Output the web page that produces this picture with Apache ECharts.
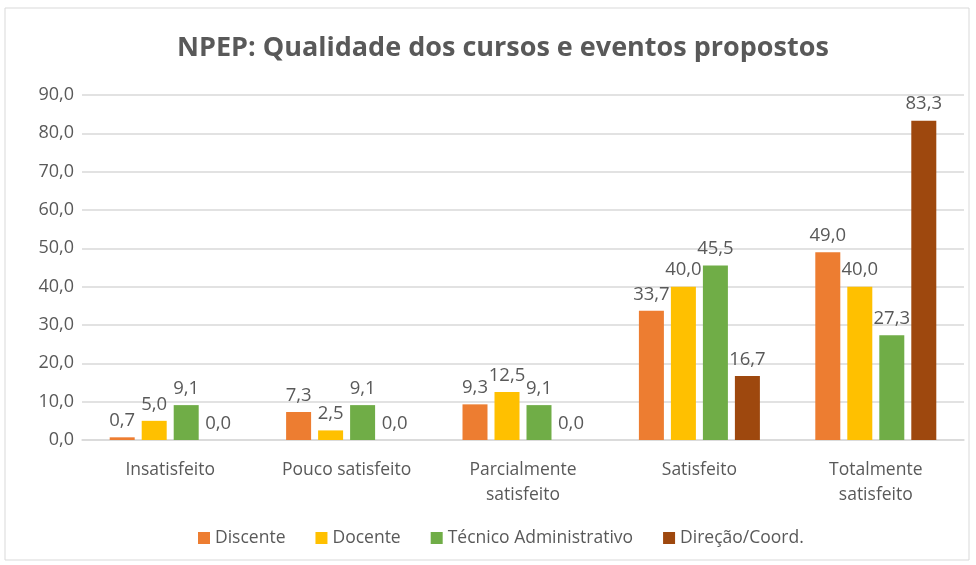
<!DOCTYPE html>
<html>
<head>
<meta charset="utf-8">
<script src="https://cdn.jsdelivr.net/npm/echarts@6/dist/echarts.min.js"></script>
<style>
html, body { margin: 0; padding: 0; background: #fff; }
#main { width: 976px; height: 565px; }
</style>
</head>
<body>
<div id="main"></div>
<script>
var categories = ['Insatisfeito', 'Pouco satisfeito', 'Parcialmente\nsatisfeito', 'Satisfeito', 'Totalmente\nsatisfeito'];
var discente = [0.7, 7.3, 9.3, 33.7, 49.0];
var docente = [5.0, 2.5, 12.5, 40.0, 40.0];
var tecnico = [9.1, 9.1, 9.1, 45.5, 27.3];
var direcao = [0.0, 0.0, 0.0, 16.7, 83.3];

var fontFam = '"Open Sans", "Noto Sans", sans-serif';
var txt = '#595959';

function mk(name, data, color) {
    return {
        name: name,
        type: 'bar',
        data: data,
        barWidth: 25,
        barGap: '28%',
        itemStyle: { color: color },
        label: {
            show: true,
            position: 'top',
            distance: 7,
            color: txt,
            fontSize: 18.5,
            fontFamily: fontFam,
            formatter: function (p) { return p.value.toFixed(1).replace('.', ','); }
        }
    };
}

var chart = echarts.init(document.getElementById('main'));
chart.setOption({
    backgroundColor: '#fff',
    graphic: [{
        type: 'rect',
        shape: { x: 5, y: 8, width: 964, height: 552 },
        style: { fill: 'none', stroke: '#d9d9d9', lineWidth: 1 }
    }],
    title: {
        text: 'NPEP: Qualidade dos cursos e eventos propostos',
        left: 172,
        top: 30,
        textStyle: { color: txt, fontSize: 27, fontWeight: 'bold', fontFamily: fontFam }
    },
    legend: {
        bottom: 13,
        left: 193,
        itemWidth: 12,
        itemHeight: 12,
        itemGap: 30,
        icon: 'rect',
        textStyle: { color: txt, fontSize: 17.5, fontFamily: fontFam }
    },
    grid: { left: 82, right: 12, top: 95, bottom: 125 },
    xAxis: {
        type: 'category',
        data: categories,
        axisLine: { lineStyle: { color: '#d9d9d9', width: 1.5 } },
        axisTick: { show: false },
        axisLabel: { color: txt, fontSize: 17.5, fontFamily: fontFam, margin: 18, lineHeight: 25 }
    },
    yAxis: {
        type: 'value',
        min: 0,
        max: 90,
        interval: 10,
        axisLine: { show: false },
        axisTick: { show: false },
        splitLine: { lineStyle: { color: '#d9d9d9', width: 1.5 } },
        axisLabel: {
            color: txt, fontSize: 18, fontFamily: fontFam, margin: 8,
            formatter: function (v) { return v.toFixed(1).replace('.', ','); }
        }
    },
    series: [
        mk('Discente', discente, '#ed7d31'),
        mk('Docente', docente, '#ffc000'),
        mk('Técnico Administrativo', tecnico, '#70ad47'),
        mk('Direção/Coord.', direcao, '#9e480e')
    ]
});
</script>
</body>
</html>
